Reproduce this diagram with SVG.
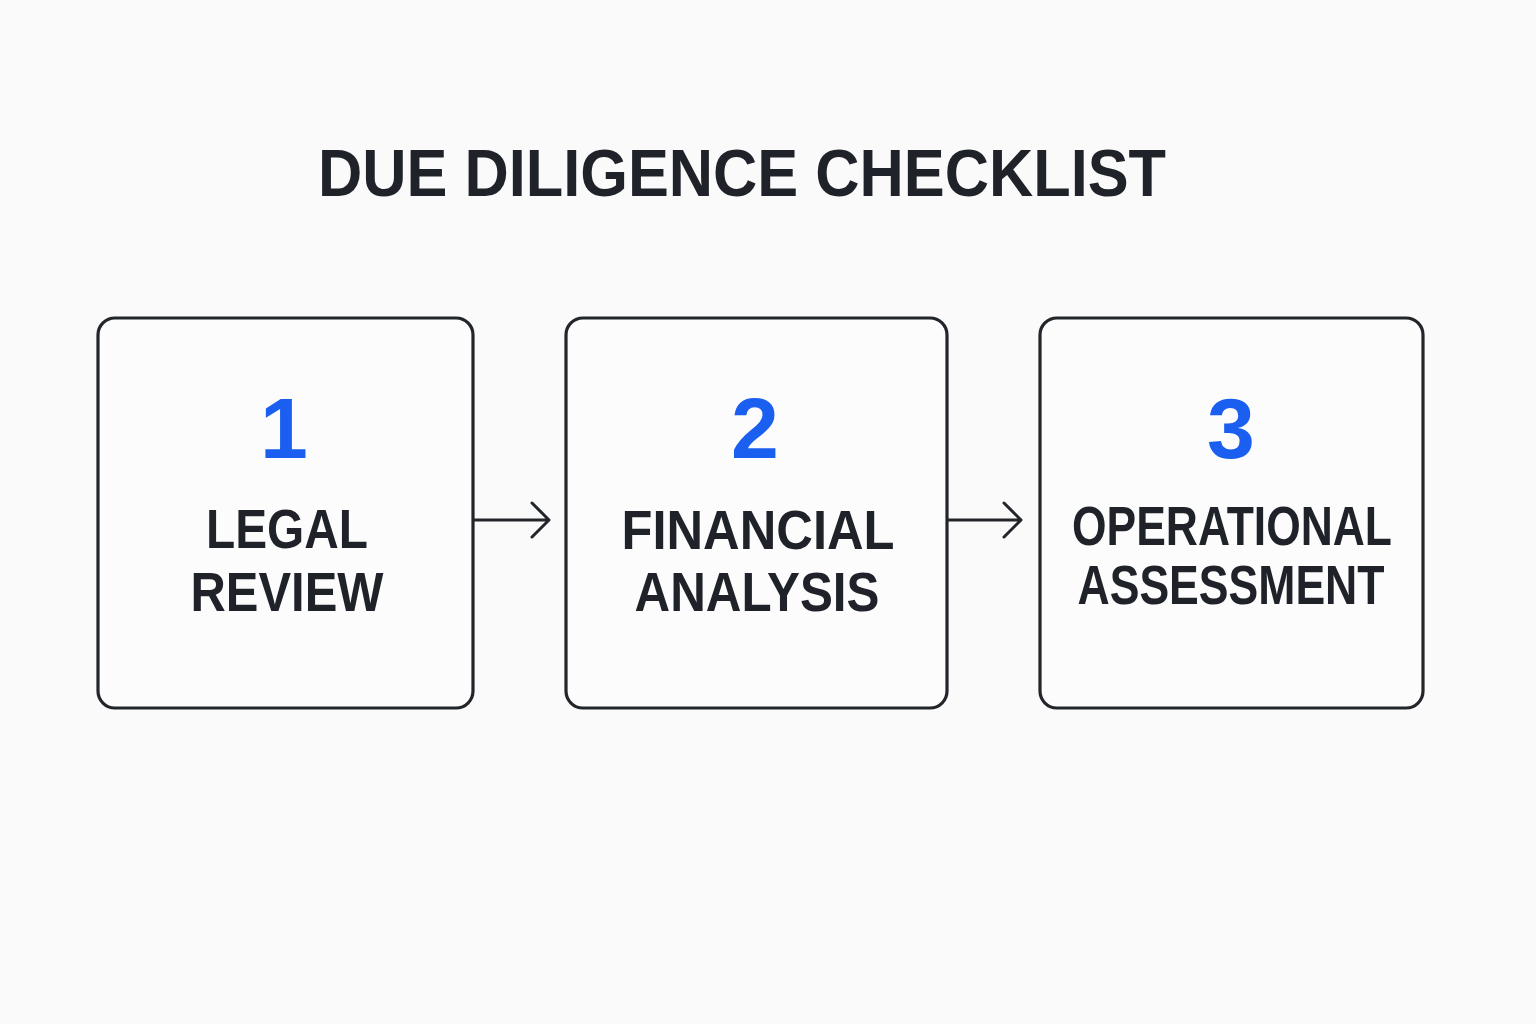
<svg xmlns="http://www.w3.org/2000/svg" width="1536" height="1024" viewBox="0 0 1536 1024">
<style>
.box{fill:#fcfcfc;stroke:#22262b;stroke-width:3.2}
.t{font-family:"Liberation Sans",Arial,sans-serif;font-weight:700;fill:#1f2329;text-anchor:middle}
.n{font-family:"Liberation Sans",Arial,sans-serif;font-weight:700;fill:#1a5ff0;text-anchor:middle;font-size:86px}
.lbl{font-size:55px}
.c{fill:none;stroke:#22262b;stroke-width:3;stroke-linecap:round;stroke-linejoin:round}
</style>
<rect width="1536" height="1024" fill="#fafafa"/>
<text class="t" x="742" y="196" font-size="67" textLength="848" lengthAdjust="spacingAndGlyphs">DUE DILIGENCE CHECKLIST</text>
<g id="connectors">
<path class="c" d="M474 520H548M532 503L549 520L532 537"/>
<path class="c" d="M948 520H1020M1004 503L1021 520L1004 537"/>
</g>
<g id="node1">
<rect class="box" x="98" y="318" width="375" height="390" rx="17"/>
<text class="n" x="284" y="458">1</text>
<text class="t lbl" x="287" y="548" textLength="162" lengthAdjust="spacingAndGlyphs">LEGAL</text>
<text class="t lbl" x="287" y="611" textLength="193" lengthAdjust="spacingAndGlyphs">REVIEW</text>
</g>
<g id="node2">
<rect class="box" x="566" y="318" width="381" height="390" rx="17"/>
<text class="n" x="755" y="458">2</text>
<text class="t lbl" x="758" y="549" textLength="273" lengthAdjust="spacingAndGlyphs">FINANCIAL</text>
<text class="t lbl" x="757" y="611" textLength="245" lengthAdjust="spacingAndGlyphs">ANALYSIS</text>
</g>
<g id="node3">
<rect class="box" x="1040" y="318" width="383" height="390" rx="17"/>
<text class="n" x="1231" y="458">3</text>
<text class="t lbl" x="1232" y="545" font-size="52" textLength="320" lengthAdjust="spacingAndGlyphs">OPERATIONAL</text>
<text class="t lbl" x="1231" y="604" font-size="52" textLength="307" lengthAdjust="spacingAndGlyphs">ASSESSMENT</text>
</g>
</svg>
